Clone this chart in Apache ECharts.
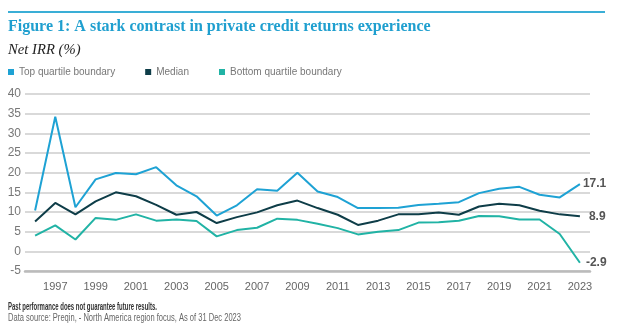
<!DOCTYPE html>
<html><head><meta charset="utf-8">
<script src="https://cdn.jsdelivr.net/npm/echarts@6/dist/echarts.min.js"></script>
<style>html,body{margin:0;padding:0;background:#fff}#c{width:631px;height:330px}</style>
</head><body><div id="c"></div>
<script>
const years = ["1996","1997","1998","1999","2000","2001","2002","2003","2004","2005","2006","2007","2008","2009","2010","2011","2012","2013","2014","2015","2016","2017","2018","2019","2020","2021","2022","2023"];
const topQuartile = [10.4,34.2,11.2,18.3,19.9,19.6,21.4,16.8,14.0,9.1,11.7,15.8,15.4,20.0,15.2,13.8,11.0,11.0,11.1,11.8,12.1,12.5,14.8,15.9,16.4,14.4,13.7,17.1];
const median = [7.6,12.3,9.4,12.7,15.0,14.0,11.8,9.3,10.0,7.2,8.7,9.9,11.7,12.9,11.0,9.3,6.7,7.8,9.4,9.4,9.9,9.3,11.4,12.1,11.7,10.3,9.4,8.9];
const bottomQuartile = [4.0,6.6,3.0,8.5,8.0,9.4,7.8,8.1,7.7,3.8,5.4,6.0,8.3,8.0,7.0,5.9,4.3,5.0,5.4,7.3,7.4,7.8,9.0,8.9,8.1,8.1,4.4,-2.9];
const seriesNames = ["Top quartile boundary","Median","Bottom quartile boundary"];
const colors = ["#1ea2d4","#0e3d48","#21b3a5"];
const footer1 = 'Past performance does not guarantee future results.';
const footer2 = 'Data source: Preqin, - North America region focus, As of 31 Dec 2023';

const mctx = document.createElement('canvas').getContext('2d');
function fitScale(text, font, w){ mctx.font = font; return w / mctx.measureText(text).width; }
const f1 = 'bold 10px "Liberation Sans"', f2 = '10px "Liberation Sans"';

const chart = echarts.init(document.getElementById('c'), null, {renderer:'canvas'});
function mk(name, data, color, dist){
  return {
    name, type:'line', data, symbol:'none', smooth:false,
    lineStyle:{width:2, color}, itemStyle:{color},
    endLabel:{show:true, distance:dist, formatter: p => p.value.toFixed(1),
      fontFamily:'Liberation Sans', fontSize:12, color:'#555', fontWeight:'bold'}
  };
}
chart.setOption({
  animation:false,
  title:[
    {text:'Figure 1: A stark contrast in private credit returns experience', left:3, top:14,
     textStyle:{fontFamily:'Liberation Serif', fontWeight:'bold', fontSize:16, color:'#1f9fcf'}},
    {text:'Net IRR (%)', left:3, top:38,
     textStyle:{fontFamily:'Liberation Serif', fontStyle:'italic', fontWeight:'normal', fontSize:14.7, color:'#222'}}
  ],
  graphic:[
    {type:'rect', shape:{x:8,y:11,width:597,height:2}, style:{fill:'#3aaed6'}},
    {type:'text', x:8, y:307, scaleX:fitScale(footer1, f1, 149), style:{text:footer1, font:f1, fill:'#333', verticalAlign:'middle', textVerticalAlign:'middle'}},
    {type:'text', x:8, y:318, scaleX:fitScale(footer2, f2, 233), style:{text:footer2, font:f2, fill:'#666', verticalAlign:'middle', textVerticalAlign:'middle'}}
  ],
  legend:{
    left:3, top:62, icon:'rect', itemWidth:6, itemHeight:6, itemGap:30,
    data:seriesNames,
    textStyle:{fontFamily:'Liberation Sans', fontSize:10, color:'#777'}
  },
  grid:{left:25, right:41, top:94, bottom:59, containLabel:false},
  xAxis:{
    type:'category', data:years, boundaryGap:true,
    axisLine:{onZero:false, lineStyle:{color:'#bbb', width:2.5}},
    axisTick:{show:false},
    axisLabel:{interval:0, formatter:(v,i)=> (i%2===1 ? v : ''), fontFamily:'Liberation Sans', fontSize:11, color:'#666', margin:10}
  },
  yAxis:{
    type:'value', min:-5, max:40, interval:5,
    axisLine:{show:false}, axisTick:{show:false},
    axisLabel:{fontFamily:'Liberation Sans', fontSize:12, color:'#777', margin:4},
    splitLine:{lineStyle:{color:'#ccc', width:1.5}}
  },
  series:[
    mk(seriesNames[0], topQuartile, colors[0], 3),
    mk(seriesNames[1], median, colors[1], 9),
    mk(seriesNames[2], bottomQuartile, colors[2], 6)
  ]
});
</script></body></html>
